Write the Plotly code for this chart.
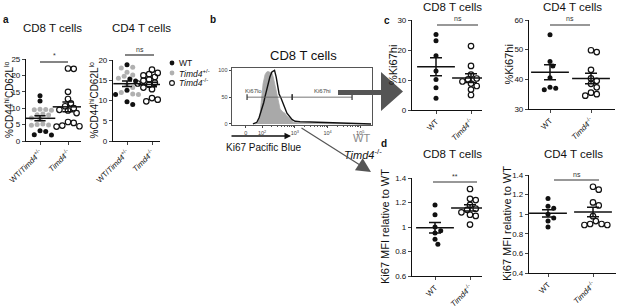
import plotly.graph_objects as go
import numpy as np

W, H = 617, 306
FONT = "Liberation Sans"

# ---------------- data ----------------
labels_a = ["WT/<i>Timd4</i><sup>+/-</sup>", "<i>Timd4</i><sup>-/-</sup>"]
labels_cd = ["WT", "<i>Timd4</i><sup>-/-</sup>"]

# panel a, CD8 (%CD44hi CD62Llo)
a8_wt = [13.8, 12.2, 3.1, 2.9, 1.9, 1.8]
a8_het = [9.7, 9.6, 9.5, 9.4, 8.2, 8.0, 7.9, 7.0, 6.6, 5.2, 5.0, 4.9, 4.8]
a8_ko = [22.1, 22.0, 15.0, 12.8, 11.5, 10.6, 10.0, 9.5, 9.3, 8.5, 5.8, 5.5, 4.7, 4.5, 4.4]
# panel a, CD4
a4_wt = [18.8, 15.3, 14.8, 12.5, 11.5, 9.7, 9.0]
a4_het = [18.2, 18.0, 17.0, 16.3, 16.0, 15.5, 13.8, 13.2, 11.6, 11.5, 12.0]
a4_ko = [17.6, 16.8, 16.5, 16.2, 15.8, 15.4, 15.2, 14.9, 14.6, 14.4, 14.2, 13.9,
         13.5, 13.2, 12.8, 10.6, 10.2, 9.8, 9.5]
# panel c (%Ki67hi)
c8_wt = [25.2, 23.1, 18.1, 13.0, 10.2, 7.4, 3.9]
c8_ko = [21.3, 14.7, 11.8, 10.5, 10.2, 9.5, 8.8, 8.0, 6.8, 5.0]
c4_wt = [55.0, 46.0, 44.5, 40.5, 37.3, 37.0, 36.5]
c4_ko = [49.8, 49.2, 43.2, 40.3, 39.5, 38.5, 37.3, 35.5, 35.0, 34.5]
# panel d (Ki67 MFI relative to WT)
d8_wt = [1.18, 1.10, 1.00, 0.97, 0.95, 0.90, 0.86]
d8_ko = [1.31, 1.23, 1.22, 1.18, 1.15, 1.14, 1.12, 1.10, 1.09, 1.02]
d4_wt = [1.16, 1.08, 1.06, 1.00, 0.96, 0.93, 0.87]
d4_ko = [1.28, 1.25, 1.12, 1.09, 0.98, 0.93, 0.90, 0.90, 0.89, 0.89]

# panel b histogram (x in decade units: 10^2 -> 2, "0" -> 1.5)
hist_ticks = [1.5, 2, 3, 4, 5]
hist_ticklabels = ["0", "10<sup>2</sup>", "10<sup>3</sup>", "10<sup>4</sup>", "10<sup>5</sup>"]
wt_x = [1.79, 1.88, 1.94, 1.99, 2.03, 2.09, 2.14, 2.18, 2.24, 2.30, 2.34, 2.40, 2.47,
        2.55, 2.64, 2.70, 2.76, 2.86, 2.95, 3.10, 3.47, 4.08, 4.69]
wt_y = [0, 2, 20, 45, 75, 92, 97, 98, 96, 95, 88, 70, 45, 28, 22, 20, 15, 8, 3, 1.5, 1, 0.5, 0]
ko_x = [1.72, 1.84, 1.91, 1.99, 2.05, 2.09, 2.15, 2.19, 2.24, 2.30, 2.34, 2.38, 2.43,
        2.47, 2.52, 2.58, 2.64, 2.70, 2.76, 2.84, 2.92, 3.01, 3.16, 3.47, 3.77, 4.08,
        4.54, 5.00, 5.33]
ko_y = [0, 3, 12, 26, 40, 51, 65, 77, 88, 97, 99, 100, 88, 72, 56, 48, 38, 28, 20, 14,
        8, 5, 4, 3.5, 3, 2, 1, 0.5, 0]
gate_names = ["Ki67lo", "Ki67hi"]
gate_start = [1.54, 2.92]
gate_end = [2.92, 4.75]
gate_level = [50, 50]

# ---------------- helpers ----------------
def px(x):
    return x / W


def py(y):
    return 1 - y / H


def note(x, y, text, size, color="#111", xanchor="center", yanchor="middle", **kw):
    d = dict(x=px(x), y=py(y), xref="paper", yref="paper", text=text, showarrow=False,
             xanchor=xanchor, yanchor=yanchor, font=dict(size=size, color=color))
    d.update(kw)
    return d


def beeswarm(vals, upp_y, upp_x, d=5.0):
    """Deterministic horizontal spreading (in x units) so markers don't overlap."""
    order = np.argsort(-np.asarray(vals))
    placed = []
    offs = np.zeros(len(vals))
    cands = [0.0]
    for j in range(1, 30):
        cands += [j * d * 0.55, -j * d * 0.55]
    for i in order:
        yp = vals[i] * upp_y
        for c in cands:
            if all((c - xo) ** 2 + (yp - yo) ** 2 >= (d * 0.95) ** 2 for xo, yo in placed):
                placed.append((c, yp))
                offs[i] = c / upp_x
                break
    return offs


fig = go.Figure()
annots = []
shapes = []

panels = [
    dict(box=(26, 59, 81, 141), cen=(40, 68), yr=(0, 25), yt=[0, 5, 10, 15, 20, 25],
         lab=labels_a, groups=[[(a8_wt, "k"), (a8_het, "g")], [(a8_ko, "o")]],
         ytitle="%CD44<sup>hi</sup>CD62L<sup>lo</sup>", ytx=9, ytsize=10,
         title="CD8 T cells", tpos=(52, 28), sig=((40, 68, 62), "*")),
    dict(box=(113, 60, 160, 141), cen=(127, 152), yr=(0, 20), yt=[0, 5, 10, 15, 20],
         lab=labels_a, groups=[[(a4_wt, "k"), (a4_het, "g")], [(a4_ko, "o")]],
         ytitle="%CD44<sup>hi</sup>CD62L<sup>lo</sup>", ytx=94, ytsize=10,
         title="CD4 T cells", tpos=(141, 28), sig=((125, 154, 55), "ns")),
    dict(box=(412, 20, 482, 110), cen=(436, 471), yr=(0, 30), yt=[0, 10, 20, 30],
         lab=labels_cd, groups=[[(c8_wt, "k")], [(c8_ko, "o")]],
         ytitle="%Ki67hi", ytx=393, ytsize=11,
         title="CD8 T cells", tpos=(452, 7), sig=((437, 478, 25), "ns")),
    dict(box=(529, 20, 615, 109), cen=(550, 591), yr=(30, 60), yt=[30, 40, 50, 60],
         lab=labels_cd, groups=[[(c4_wt, "k")], [(c4_ko, "o")]],
         ytitle="%Ki67hi", ytx=508, ytsize=11,
         title="CD4 T cells", tpos=(572, 7), sig=((550, 590, 25), "ns")),
    dict(box=(412, 178, 482, 276), cen=(435, 470), yr=(0.6, 1.4), yt=[0.6, 0.8, 1.0, 1.2, 1.4],
         lab=labels_cd, groups=[[(d8_wt, "k")], [(d8_ko, "o")]],
         ytitle="Ki67 MFI relative to WT", ytx=385, ytsize=11,
         title="CD8 T cells", tpos=(452, 154), sig=((433, 477, 182), "**")),
    dict(box=(529, 175, 616, 273), cen=(548, 593), yr=(0.4, 1.4), yt=[0.4, 0.6, 0.8, 1.0, 1.2, 1.4],
         lab=labels_cd, groups=[[(d4_wt, "k")], [(d4_ko, "o")]],
         ytitle="Ki67 MFI relative to WT", ytx=507, ytsize=11,
         title="CD4 T cells", tpos=(573, 154), sig=((554, 599, 180), "ns")),
]

styles = {
    "k": dict(symbol="circle", size=5, color="#111111", line=dict(width=0)),
    "g": dict(symbol="circle", size=5, color="#b0b0b0", line=dict(width=0)),
    "o": dict(symbol="circle-open", size=5.5, color="#111111", line=dict(width=1.2)),
}

layout_axes = {}
for n, p in enumerate(panels, start=1):
    l, t, r, b = p["box"]
    c0, c1 = p["cen"]
    unit = c1 - c0
    xr = (-(c0 - l) / unit, 1 + (r - c1) / unit)
    upp_y = (b - t) / (p["yr"][1] - p["yr"][0])
    xa = "x" if n == 1 else f"x{n}"
    ya = "y" if n == 1 else f"y{n}"
    for gi, grp in enumerate(p["groups"]):
        allv = [v for vals, _ in grp for v in vals]
        offs = beeswarm(allv, upp_y, unit, d=5.2)
        k = 0
        for vals, st in grp:
            o = offs[k:k + len(vals)]
            k += len(vals)
            fig.add_trace(go.Scatter(x=gi + o, y=vals, mode="markers", marker=styles[st],
                                     xaxis=xa, yaxis=ya, showlegend=False, hoverinfo="skip",
                                     cliponaxis=False))
        arr = np.asarray(allv)
        mean = arr.mean()
        sem = arr.std(ddof=1) / np.sqrt(len(arr))
        fig.add_trace(go.Scatter(
            x=[gi], y=[mean], mode="markers",
            marker=dict(symbol="line-ew", size=min(unit * 0.78, 27),
                        line=dict(width=1.5, color="#111")),
            error_y=dict(type="data", array=[sem], width=min(unit * 0.2, 6), thickness=1.5,
                         color="#111"),
            xaxis=xa, yaxis=ya, showlegend=False, hoverinfo="skip"))
    key = "" if n == 1 else str(n)
    layout_axes["xaxis" + key] = dict(
        domain=[px(l), px(r)], range=list(xr), anchor=ya, showline=True, linecolor="#111",
        linewidth=1.2, ticks="outside", ticklen=3, tickwidth=1, tickvals=[0, 1],
        ticktext=p["lab"], tickangle=-45, tickfont=dict(size=7.8, color="#111"),
        showgrid=False, zeroline=False, automargin=False)
    layout_axes["yaxis" + key] = dict(
        domain=[py(b), py(t)], range=list(p["yr"]), anchor=xa, showline=True,
        linecolor="#111", linewidth=1.2, ticks="outside", ticklen=3, tickwidth=1,
        tickvals=p["yt"], tickfont=dict(size=8, color="#111"), showgrid=False,
        zeroline=False, automargin=False)
    annots.append(note(p["ytx"], (t + b) / 2, p["ytitle"], p["ytsize"], textangle=-90))
    annots.append(note(p["tpos"][0], p["tpos"][1], p["title"], 11.5))
    (sx0, sx1, sy), stxt = p["sig"]
    shapes.append(dict(type="line", xref="paper", yref="paper", x0=px(sx0), x1=px(sx1),
                       y0=py(sy), y1=py(sy), line=dict(color="#333", width=1.2)))
    annots.append(note((sx0 + sx1) / 2, sy - 0.5, stxt, 7, color="#333", yanchor="bottom"))

# ---------------- panel b: histogram ----------------
fig.add_trace(go.Scatter(x=wt_x, y=wt_y, mode="lines", fill="tozeroy",
                         fillcolor="#a9a9a9", line=dict(color="#a9a9a9", width=0.8),
                         xaxis="x7", yaxis="y7", showlegend=False, hoverinfo="skip"))
fig.add_trace(go.Scatter(x=ko_x, y=ko_y, mode="lines", line=dict(color="#111", width=1.4),
                         xaxis="x7", yaxis="y7", showlegend=False, hoverinfo="skip"))
for nm, s0, s1, lv in zip(gate_names, gate_start, gate_end, gate_level):
    fig.add_trace(go.Scatter(x=[s0, s1], y=[lv, lv], mode="lines+markers",
                             line=dict(color="#666", width=0.9),
                             marker=dict(symbol="line-ns", size=4, line=dict(width=1.2, color="#333")),
                             xaxis="x7", yaxis="y7", showlegend=False, hoverinfo="skip"))
    annots.append(dict(x=(s0 + s1) / 2 if nm == "Ki67hi" else s0 + 0.2, y=lv + 3,
                       xref="x7", yref="y7", text=nm, showarrow=False, yanchor="bottom",
                       xanchor="center", font=dict(size=6, color="#444")))

minor = [d + np.log10(k) for d in (2, 3, 4) for k in range(2, 10)]
layout_axes["xaxis7"] = dict(domain=[px(232), px(372)], range=[1.08, 5.36], anchor="y7",
                             showline=True, mirror=True, linecolor="#555", linewidth=0.8,
                             ticks="outside", ticklen=2.5, tickvals=hist_ticks,
                             ticktext=hist_ticklabels, tickfont=dict(size=5.5, color="#444"),
                             minor=dict(tickvals=minor, ticks="outside", ticklen=1.5,
                                        tickcolor="#555"),
                             showgrid=False, zeroline=False, automargin=False)
layout_axes["yaxis7"] = dict(domain=[py(125), py(68)], range=[-2, 104.5], anchor="x7",
                             showline=True, mirror=True, linecolor="#555", linewidth=0.8,
                             ticks="outside", ticklen=2.5, tickvals=[0, 50, 100],
                             tickfont=dict(size=5.5, color="#444"), showgrid=False,
                             zeroline=False, automargin=False)

annots.append(note(303, 55, "CD8 T cells", 13))
annots.append(note(263, 147, "Ki67 Pacific Blue", 10))
annots.append(dict(x=px(291), y=py(136), xref="paper", yref="paper", text="", showarrow=True,
                   ax=-61, ay=0, arrowhead=2, arrowsize=1, arrowwidth=1.3, arrowcolor="#111"))
annots.append(note(361, 137.5, "WT", 11, color="#8a8a8a"))
annots.append(note(363, 154, "<i>Timd4</i><sup>-/-</sup>", 11))
annots.append(dict(x=px(371), y=py(172), xref="paper", yref="paper", text="", showarrow=True,
                   ax=-71, ay=-45, arrowhead=2, arrowsize=2.4, arrowwidth=1.2,
                   arrowcolor="#555"))
shapes.append(dict(type="path", xref="paper", yref="paper",
                   path=(f"M {px(338)},{py(90)} L {px(381)},{py(90)} L {px(381)},{py(72)} "
                         f"L {px(403)},{py(91.5)} L {px(381)},{py(111)} L {px(381)},{py(95)} "
                         f"L {px(338)},{py(95)} Z"),
                   fillcolor="#555", line=dict(width=0)))

for txt, x, y in [("a", 6, 20), ("b", 213, 20), ("c", 387, 21), ("d", 384, 143)]:
    annots.append(note(x, y, f"<b>{txt}</b>", 10))

leg = [("WT", "k", 63), ("<i>Timd4</i><sup>+/-</sup>", "g", 73), ("<i>Timd4</i><sup>-/-</sup>", "o", 83)]
for txt, st, y in leg:
    r = 2.4
    if st == "o":
        shapes.append(dict(type="circle", xref="paper", yref="paper", x0=px(172 - r), x1=px(172 + r),
                           y0=py(y + r), y1=py(y - r), fillcolor="white",
                           line=dict(color="#111", width=1.1)))
    else:
        shapes.append(dict(type="circle", xref="paper", yref="paper", x0=px(172 - r), x1=px(172 + r),
                           y0=py(y + r), y1=py(y - r), fillcolor=styles[st]["color"],
                           line=dict(width=0)))
    annots.append(note(177, y, txt, 8.5, xanchor="left"))

fig.update_layout(width=W, height=H, margin=dict(l=0, r=0, t=0, b=0, pad=0), autosize=False,
                  template="none", paper_bgcolor="white", plot_bgcolor="white",
                  font=dict(family=FONT, color="#111"), annotations=annots, shapes=shapes,
                  showlegend=False, **layout_axes)
fig.write_html("out.html", config={"displayModeBar": False},
               post_script="document.body.style.margin='0px';document.body.style.overflow='hidden';")
